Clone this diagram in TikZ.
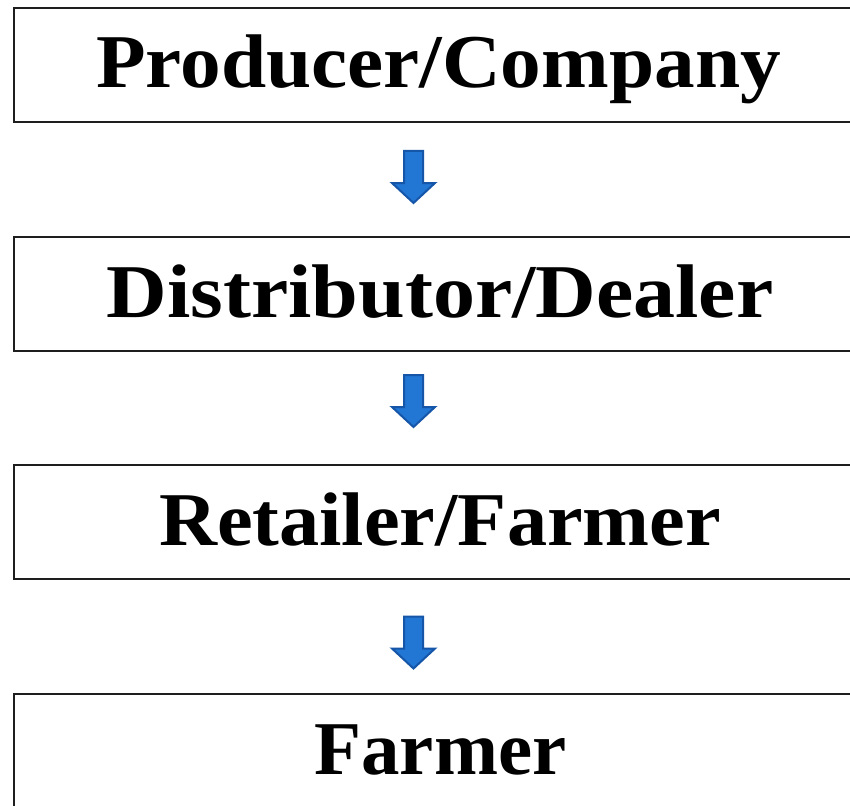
\documentclass[tikz,border=0pt]{standalone}
\usepackage{fontspec}
\setmainfont{Liberation Serif}
\definecolor{arrfill}{RGB}{34,118,212}
\definecolor{arrline}{RGB}{22,86,168}
\definecolor{boxline}{RGB}{30,30,30}
\tikzset{
  stage/.style={draw=boxline, line width=2pt, minimum width=852pt, minimum height=114pt, inner sep=0pt},
  stagetext/.style={anchor=base, inner sep=0pt, font=\fontsize{76}{80}\selectfont\bfseries},
  flowarrow/.style={draw=arrline, fill=arrfill, line width=2pt, line join=miter}
}
\newcommand{\blockarrow}[1]{%
  \draw[flowarrow] (#1) ++(-9.5,0) -- ++(19,0) -- ++(0,32) -- ++(12,0) -- ++(-21.5,20) -- ++(-21.5,-20) -- ++(12,0) -- cycle;}
\begin{document}
\begin{tikzpicture}[x=1pt,y=-1pt]
\useasboundingbox (0,0) rectangle (850,805);
\fill[white] (0,0) rectangle (850,805);
\node[stage] (b1) at (440,65.5) {};
\node[stage] (b2) at (440,294) {};
\node[stage] (b3) at (440,522) {};
\node[stage] (b4) at (440,750.5) {};
\node[stagetext, xscale=1.069] (t1) at (438.5,88) {Producer/Company};
\node[stagetext, xscale=1.105] (t2) at (440,317) {Distributor/Dealer};
\node[stagetext, xscale=1.057] (t3) at (440,545) {Retailer/Farmer};
\node[stagetext, xscale=1.012] (t4) at (440.5,774) {Farmer};
\coordinate (a1) at (413.5,151);
\coordinate (a2) at (413.5,375);
\coordinate (a3) at (413.5,616.5);
\blockarrow{a1}
\blockarrow{a2}
\blockarrow{a3}
\end{tikzpicture}
\end{document}
